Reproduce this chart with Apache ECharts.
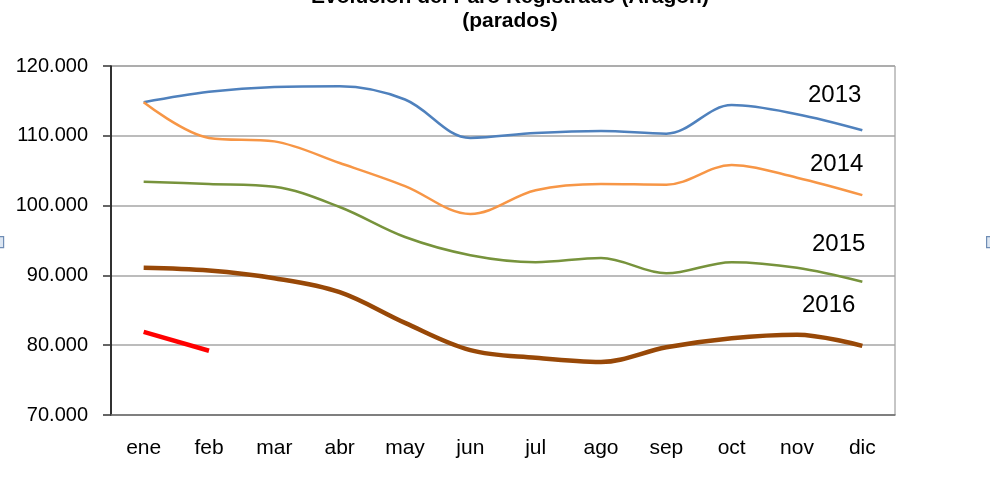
<!DOCTYPE html>
<html><head><meta charset="utf-8">
<script src="https://cdn.jsdelivr.net/npm/echarts@6/dist/echarts.min.js"></script>
<style>html,body{margin:0;padding:0;background:#fff}#c{width:990px;height:491px}</style>
</head><body><div id="c"></div>
<script>
const months = ['ene','feb','mar','abr','may','jun','jul','ago','sep','oct','nov','dic'];
const yTicks = [70000, 80000, 90000, 100000, 110000, 120000];
const s2013 = [114800,116300,117000,117100,115200,109700,110400,110700,110300,114400,113100,110800];
const s2014 = [114800,109700,109200,106100,102800,98800,102200,103100,103000,105800,104000,101500];
const s2015 = [103400,103100,102700,99800,95500,92900,91900,92500,90300,91900,91100,89100];
const s2016 = [91100,90700,89600,87600,83200,79300,78200,77600,79700,81000,81500,79900];
const s2017 = [81900,79200];
const seriesNames = ['2013','2014','2015','2016','2017'];

const chart = echarts.init(document.getElementById('c'));
const fmt = v => String(v).replace(/\B(?=(\d{3})+(?!\d))/g, '.');
function line(name, data, color, width, smooth) {
  return {name, type:'line', data, smooth, symbol:'none', lineStyle:{color, width}, itemStyle:{color}};
}
function yearLabel(text, left, top) {
  return {type:'text', left, top, style:{text, fontFamily:'Liberation Sans', fontSize:24, fill:'#000'}};
}
chart.setOption({
  animation:false,
  title:{text:'Evolución del Paro Registrado (Aragón)\n(parados)', left:505, textAlign:'center', top:-20,
    textStyle:{fontFamily:'Liberation Sans', fontSize:21, fontWeight:'bold', color:'#000', lineHeight:24}},
  grid:{left:111, right:95, top:66, bottom:76, show:true, borderColor:'#8c8c8c', borderWidth:1},
  xAxis:{type:'category', data:months, boundaryGap:true,
    axisLine:{lineStyle:{color:'#707070', width:1.5}}, axisTick:{show:false},
    axisLabel:{color:'#000', fontFamily:'Liberation Sans', fontSize:21, margin:23}},
  yAxis:{type:'value', min:yTicks[0], max:yTicks[yTicks.length-1], interval:10000,
    axisLine:{show:true, lineStyle:{color:'#000', width:1.5}},
    axisTick:{show:true, length:8, lineStyle:{color:'#333', width:1.5}},
    axisLabel:{formatter:fmt, color:'#000', fontFamily:'Liberation Sans', fontSize:20, margin:23},
    splitLine:{lineStyle:{color:'#a6a6a6', width:1.5}}},
  series:[
    line(seriesNames[0], s2013, '#4f81bd', 2.5, 0.35),
    line(seriesNames[1], s2014, '#f79646', 2.5, 0.35),
    line(seriesNames[2], s2015, '#77933c', 2.5, 0.35),
    line(seriesNames[3], s2016, '#984807', 4.5, 0.35),
    line(seriesNames[4], s2017, '#ff0000', 4.5, false)
  ],
  graphic:[
    yearLabel('2013', 808, 83),
    yearLabel('2014', 810, 152),
    yearLabel('2015', 812, 232),
    yearLabel('2016', 802, 293),
    {type:'rect', left:-2, top:236, shape:{width:5, height:11}, style:{fill:'#dce6f2', stroke:'#6f8db5', lineWidth:1.2}},
    {type:'rect', left:986, top:236, shape:{width:6, height:11}, style:{fill:'#dce6f2', stroke:'#6f8db5', lineWidth:1.2}}
  ]
});
</script></body></html>
